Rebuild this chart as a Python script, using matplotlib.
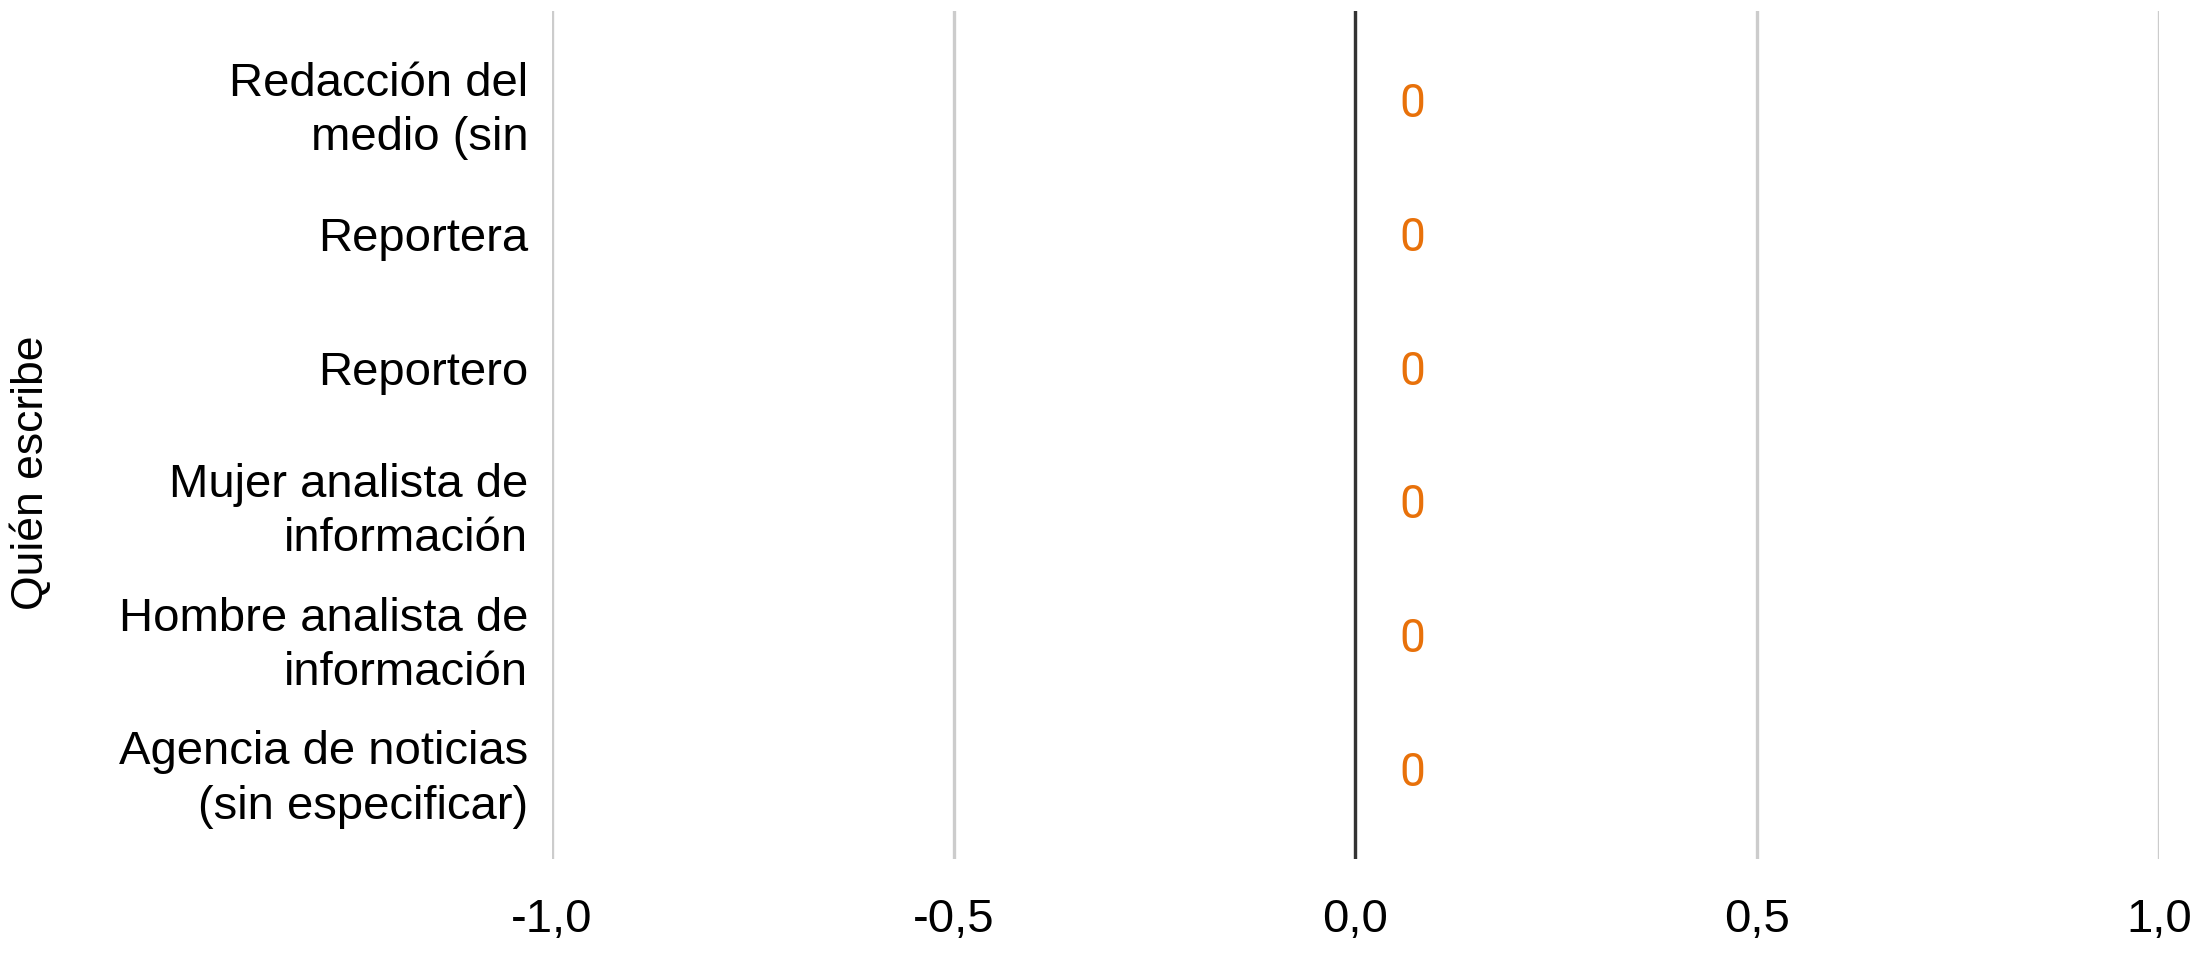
import numpy as np
import matplotlib.pyplot as plt
from matplotlib.ticker import FuncFormatter

# data
categories = ['Redacción del\nmedio (sin', 'Reportera', 'Reportero',
              'Mujer analista de\ninformación', 'Hombre analista de\ninformación',
              'Agencia de noticias\n(sin especificar)']
values = [0, 0, 0, 0, 0, 0]
xticks = [-1.0, -0.5, 0.0, 0.5, 1.0]

plt.rcParams['font.family'] = ['Liberation Sans', 'DejaVu Sans']

fig = plt.figure(figsize=(21.91, 9.56), dpi=100)
ax = fig.add_axes([0.2519, 0.1015, 0.7335, 0.887])

y = np.arange(len(categories))
bars = ax.barh(y, values, height=0.6, color='#e8710a')

for yi, v in zip(y, values):
    ax.annotate(f'{v}', xy=(v, yi), xytext=(41, -2.5), textcoords='offset points',
                ha='center', va='center', fontsize=33, color='#e8710a',
                family=['Roboto', 'DejaVu Sans'])

ax.set_xlim(-1, 1)
ax.set_ylim(5.67, -0.67)
ax.set_yticks(y)
ax.set_yticklabels(categories, fontsize=34, linespacing=1.3)
ax.set_xticks(xticks)
ax.xaxis.set_major_formatter(FuncFormatter(lambda v, p: f'{v:.1f}'.replace('.', ',')))
ax.tick_params(axis='x', labelsize=34, length=0, pad=28)
ax.tick_params(axis='y', length=0, pad=17)

ax.grid(axis='x', color='#cccccc', linewidth=2.4)
ax.set_axisbelow(True)
ax.axvline(0, color='#333333', linewidth=2.4)
for s in ax.spines.values():
    s.set_visible(False)

ax.set_ylabel('Quién escribe', fontsize=32)
ax.yaxis.set_label_coords(-0.311, 0.456)

fig.savefig('out.png', dpi=100)
